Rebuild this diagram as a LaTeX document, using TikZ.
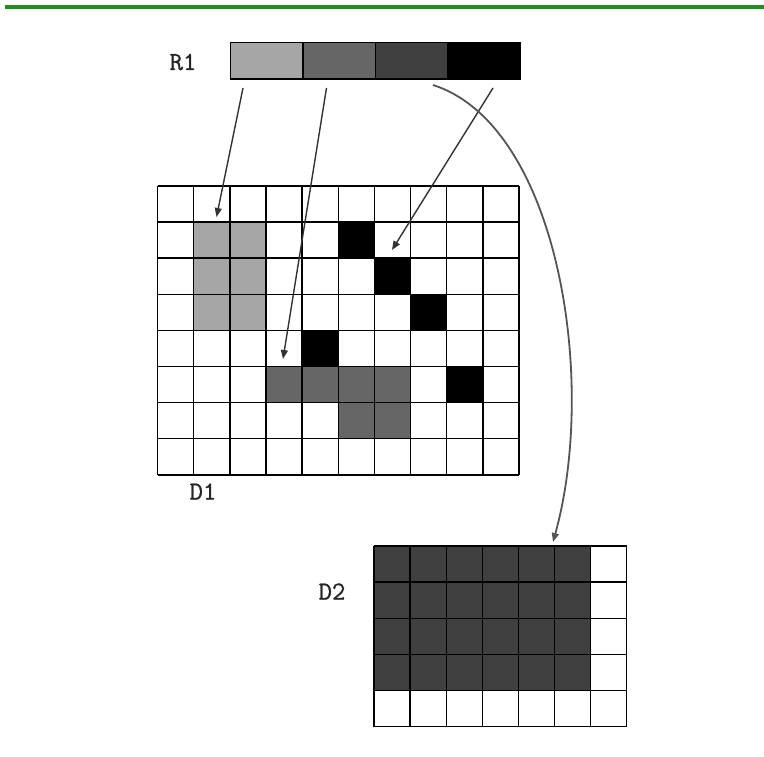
\documentclass[tikz,border=0pt]{standalone}
\usepackage{fontspec}
\newfontfamily\lblfont{Latin Modern Mono}[FakeBold=0.8]
\usetikzlibrary{arrows.meta}
\definecolor{lgray}{HTML}{A6A6A6}
\definecolor{mgray}{HTML}{666666}
\definecolor{dgray}{HTML}{404040}
\definecolor{topgreen}{HTML}{228B22}
\definecolor{arrowgray}{HTML}{333333}
\definecolor{curvegray}{HTML}{555555}
\begin{document}
\begin{tikzpicture}[x=1pt,y=-1pt,
  gridline/.style={line width=1.4pt,black},
  barcell/.style={draw=black,line width=1.4pt,inner sep=0pt,minimum width=72.3pt,minimum height=36.5pt,anchor=north west},
  lbl/.style={font=\fontsize{26}{30}\lblfont\selectfont,text=black!85,inner sep=0pt},
  ptr/.style={draw=arrowgray,line width=1.4pt,-{Triangle[length=9pt,width=7pt]}},
  curvedptr/.style={draw=curvegray,line width=1.8pt,-{Triangle[length=9pt,width=7pt]}}]
\useasboundingbox (0,0) rectangle (764,757);
\fill[white] (0,0) rectangle (764,757);
\draw[topgreen,line width=3.5pt] (5,7) -- (764,7);

% R1 bar
\node[lbl] (R1) at (183,62) {R1};
\node[barcell,fill=lgray] (r1) at (230,42) {};
\node[barcell,fill=mgray] (r2) at (302.3,42) {};
\node[barcell,fill=dgray] (r3) at (374.6,42) {};
\node[barcell,fill=black] (r4) at (446.9,42) {};

% D1 grid
\def\dxo{157.5}\def\dyo{186}\def\dc{36.15}\def\dr{36.1}
\foreach \c/\r/\col in {1/1/lgray,2/1/lgray,1/2/lgray,2/2/lgray,1/3/lgray,2/3/lgray,
  5/1/black,6/2/black,7/3/black,4/4/black,8/5/black,
  3/5/mgray,4/5/mgray,5/5/mgray,6/5/mgray,5/6/mgray,6/6/mgray}
  \fill[\col] ({\dxo+\c*\dc},{\dyo+\r*\dr}) rectangle ++(\dc,\dr);
\foreach \c in {0,...,10}
  \draw[gridline] ({\dxo+\c*\dc},\dyo) -- ++(0,{8*\dr});
\foreach \r in {0,...,8}
  \draw[gridline] (\dxo,{\dyo+\r*\dr}) -- ++({10*\dc},0);
\node[lbl] (D1) at (203,491.5) {D1};

% D2 grid
\def\exo{374}\def\eyo{546}\def\ec{36.1}\def\er{36.1}
\fill[dgray] (\exo,\eyo) rectangle ++({6*\ec},{4*\er});
\foreach \c in {0,...,7}
  \draw[gridline] ({\exo+\c*\ec},\eyo) -- ++(0,{5*\er});
\foreach \r in {0,...,5}
  \draw[gridline] (\exo,{\eyo+\r*\er}) -- ++({7*\ec},0);
\node[lbl] (D2) at (332,591.5) {D2};

% connectors
\coordinate (a1s) at (243,88);  \coordinate (a1e) at (216.5,217);
\coordinate (a2s) at (326.5,88); \coordinate (a2e) at (283,359);
\coordinate (a3s) at (493,88);  \coordinate (a3e) at (392,250);
\coordinate (a4s) at (433,85);  \coordinate (a4e) at (553,542);
\draw[ptr] (a1s) -- (a1e);
\draw[ptr] (a2s) -- (a2e);
\draw[ptr] (a3s) -- (a3e);
\draw[curvedptr] (a4s) .. controls (558,125) and (598,380) .. (a4e);
\end{tikzpicture}
\end{document}
